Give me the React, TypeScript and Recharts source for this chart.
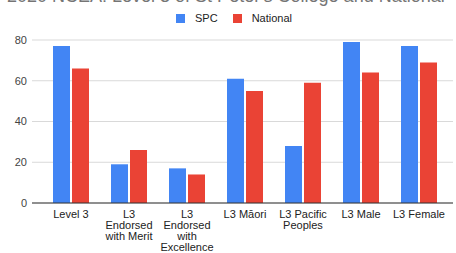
import { Bar, BarChart, CartesianGrid, XAxis, YAxis } from "recharts";

const categories = [
  "Level 3",
  "L3\nEndorsed\nwith Merit",
  "L3\nEndorsed\nwith\nExcellence",
  "L3 Māori",
  "L3 Pacific\nPeoples",
  "L3 Male",
  "L3 Female",
];
const spc = [77, 19, 17, 61, 28, 79, 77];
const national = [66, 26, 14, 55, 59, 64, 69];
const yTicks = [0, 20, 40, 60, 80];
const seriesNames = ["SPC", "National"];
const title = "2020 NCEA: Level 3 of St Peter's College and National";

const data = categories.map((name, i) => ({ name, spc: spc[i], national: national[i] }));

const FONT = "'Liberation Sans', Arial, sans-serif";
const BLUE = "#4285f4";
const RED = "#ea4335";

function CategoryTick({ x, y, payload }: any) {
  const lines = String(payload.value).split("\n");
  return (
    <text x={x} y={y} textAnchor="middle" fill="#222" fontSize={11} fontFamily={FONT}>
      {lines.map((line, i) => (
        <tspan key={i} x={x} dy={i === 0 ? 7 : 11}>
          {line}
        </tspan>
      ))}
    </text>
  );
}

export default function App() {
  return (
    <div style={{ position: "absolute", left: 0, top: 0, width: 456, height: 253, overflow: "hidden", background: "#fff", fontFamily: FONT }}>
      <div style={{ position: "absolute", left: 7, top: -14, fontSize: 18, lineHeight: "20px", color: "#757575", whiteSpace: "nowrap" }}>
        {title}
      </div>
      <div style={{ position: "absolute", left: 176, top: 12, display: "flex", alignItems: "center", fontSize: 11, color: "#222" }}>
        {seriesNames.map((n, i) => (
          <span key={n} style={{ display: "flex", alignItems: "center", marginRight: 15 }}>
            <span style={{ width: 9, height: 9, background: i === 0 ? BLUE : RED, marginRight: 10, display: "inline-block" }} />
            {n}
          </span>
        ))}
      </div>
      <BarChart
        width={456}
        height={253}
        data={data}
        margin={{ top: 40, right: 3, left: 0, bottom: 0 }}
        barSize={17}
        barGap={2}
        style={{ position: "absolute", left: 0, top: 0 }}
      >
        <CartesianGrid stroke="#d9d9d9" vertical={false} />
        <XAxis
          dataKey="name"
          interval={0}
          height={50}
          tickLine={false}
          axisLine={{ stroke: "#333" }}
          padding={{ left: 10, right: 5 }}
          tick={<CategoryTick />}
        />
        <YAxis
          width={32}
          domain={[0, 80]}
          ticks={yTicks}
          tickLine={false}
          axisLine={false}
          tickSize={3}
          tickMargin={2}
          tick={{ fill: "#444", fontSize: 11, fontFamily: FONT }}
        />
        <Bar dataKey="spc" name={seriesNames[0]} fill={BLUE} isAnimationActive={false} />
        <Bar dataKey="national" name={seriesNames[1]} fill={RED} isAnimationActive={false} />
      </BarChart>
    </div>
  );
}
